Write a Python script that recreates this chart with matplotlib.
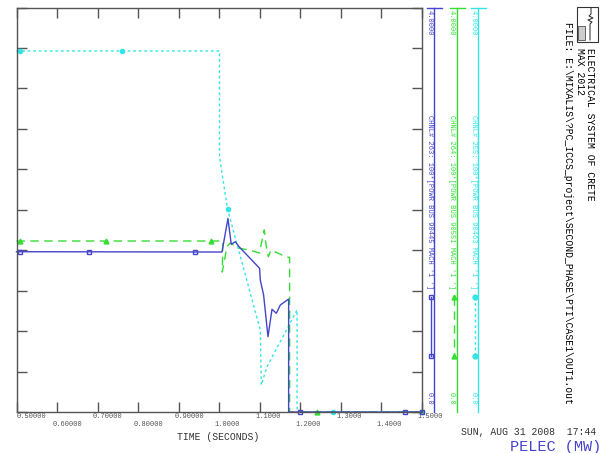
import matplotlib
matplotlib.use("Agg")
import matplotlib.pyplot as plt
import matplotlib.transforms as mtrans
from matplotlib.lines import Line2D
from matplotlib.patches import Rectangle
import numpy as np

# channel data (time in s, value in 100 MW units)
blue_t = [0.5, 1.0067, 1.0215, 1.0296, 1.0395, 1.0494, 1.0995, 1.1012, 1.1094,
          1.1202, 1.1301, 1.1407, 1.1506, 1.1711, 1.1711, 1.5]
blue_v = [1.585, 1.582, 1.913, 1.658, 1.684, 1.632, 1.421, 1.305, 1.157,
          0.745, 1.016, 0.976, 1.058, 1.117, 0.0, 0.0]
blue_mark_t = [0.5086, 0.6798, 0.9407, 1.2000, 1.4593, 1.5]

green_t = [0.5, 1.0091, 1.0074, 1.019, 1.0272, 1.0469, 1.0807, 1.0988, 1.1111,
           1.116, 1.121, 1.1277, 1.1672, 1.1735, 1.1735, 1.5]
green_v = [1.691, 1.691, 1.384, 1.635, 1.671, 1.622, 1.595, 1.572, 1.80,
           1.635, 1.536, 1.602, 1.530, 1.530, 0.0, 0.0]
green_mark_t = [0.5086, 0.7210, 0.9802, 1.2412]

cyan_t = [0.5, 1.0007, 1.0007, 1.0205, 1.1012, 1.1037, 1.1178, 1.1919, 1.1919, 1.5]
cyan_v = [3.570, 3.570, 2.522, 2.004, 0.811, 0.267, 0.448, 1.009, 0.0, 0.0]
cyan_mark_t = [0.5086, 0.7598, 1.0205, 1.2807, 1.5]

x_ticks = [0.5, 0.6, 0.7, 0.8, 0.9, 1.0, 1.1, 1.2, 1.3, 1.4, 1.5]
x_labels = ["0.50000", "0.60000", "0.70000", "0.80000", "0.90000", "1.0000",
            "1.1000", "1.2000", "1.3000", "1.4000", "1.5000"]

channels = ["CHNL# 263: 100*[POWR BUS 90445 MACH '1 ']",
            "CHNL# 264: 100*[POWR BUS 90551 MACH '1 ']",
            "CHNL# 255: 100*[POWR BUS 90463 MACH '1 ']"]

BLUE = "#4444cc"
GREEN = "#33dd33"
CYAN = "#33e5e5"
GRAY = "#555555"
MONO = "Liberation Mono"

W, H = 608, 453
fig = plt.figure(figsize=(W / 100, H / 100), dpi=100)
ax = fig.add_axes([16.5 / W, 1 - 412 / H, 405.5 / W, 404.5 / H])


def px(x, y):
    return x / W, 1 - y / H


ax.plot(cyan_t, cyan_v, color=CYAN, lw=1.0, ls=(0, (2, 2)), clip_on=False)
ax.plot(cyan_mark_t, np.interp(cyan_mark_t, cyan_t[:2] + cyan_t[3:], cyan_v[:2] + cyan_v[3:]),
        ls="none", marker="o", ms=3, color=CYAN, clip_on=False)
ax.plot(green_t, green_v, color=GREEN, lw=1.0, ls=(0, (6, 4)), clip_on=False)
ax.plot(green_mark_t, [1.691, 1.691, 1.691, 0], ls="none", marker="^", ms=3.5,
        color=GREEN, clip_on=False)
ax.plot(blue_t, blue_v, color=BLUE, lw=1.0, clip_on=False)
ax.plot(blue_mark_t, [1.585, 1.585, 1.585, 0, 0, 0], ls="none", marker="s", ms=3.5,
        mfc="none", mec=BLUE, mew=1.0, clip_on=False)

ax.set_xlim(0.5, 1.5)
ax.set_ylim(0, 4)

ax.set_xticks(x_ticks)
ax.set_xticklabels([])
ax.set_yticks(np.arange(0, 4.01, 0.4))
ax.set_yticklabels([])
ax.tick_params(which="both", direction="in", length=7, width=1.0, color=GRAY,
               top=True, right=True)
for s in ax.spines.values():
    s.set_color(GRAY)
    s.set_linewidth(1.0)

# PSS/E style staggered tick labels, starting a bit left of the tick
for i, (t, lab) in enumerate(zip(x_ticks, x_labels)):
    dy = -4.5 if i % 2 == 0 else -13
    dx = 0 if i == 0 else -4.5
    off = mtrans.ScaledTranslation(dx / 100, dy / 100, fig.dpi_scale_trans)
    ax.text(t, 0, lab, transform=ax.get_xaxis_transform() + off, ha="left",
            va="center", fontsize=5, family=MONO, color=GRAY, clip_on=False)

# channel scale bars on the right
bar_x = [434, 456.5, 478]
colors = [BLUE, GREEN, CYAN]
styles = ["-", (0, (6, 4)), (0, (2, 2))]
markers = ["s", "^", "o"]
for bx, c, lab, st, mk in zip(bar_x, colors, channels, styles, markers):
    fig.add_artist(Line2D(*zip(px(bx, 7.5), px(bx, 412)), color=c, lw=1.0))
    fig.add_artist(Line2D(*zip(px(bx - 7, 7.5), px(bx + 8, 7.5)), color=c, lw=1.0))
    fig.text(*px(bx - 5, 10), "4.0000", rotation=270, color=c, fontsize=5,
             family=MONO, ha="center", va="top")
    fig.text(*px(bx - 5, 115), lab, rotation=270, color=c, fontsize=5,
             family=MONO, ha="center", va="top")
    fig.text(*px(bx - 5, 392), "0.0", rotation=270, color=c, fontsize=5,
             family=MONO, ha="center", va="top")
    fig.add_artist(Line2D(*zip(px(bx - 3, 297), px(bx - 3, 356)), color=c, lw=1.0,
                          ls=st, marker=mk, ms=3.5,
                          mfc="none" if mk == "s" else c, mec=c))

# title block
fig.text(*px(590, 48), "ELECTRICAL SYSTEM OF CRETE", rotation=270, fontsize=7,
         family=MONO, ha="center", va="top")
fig.text(*px(580, 48), "MAX 2012", rotation=270, fontsize=7,
         family=MONO, ha="center", va="top")
fig.text(*px(568, 22), "FILE: E:\\MIXALIS\\?PC_ICCS_project\\SECOND_PHASE\\PTI\\CASE1\\OUT1.out",
         rotation=270, fontsize=7, family=MONO, ha="center", va="top")

# small logo box
fig.add_artist(Rectangle(px(577, 42), 21 / W, 35 / H, fill=False, lw=0.8,
                         ec="#333333"))
fig.add_artist(Rectangle(px(578, 40), 7 / W, 14 / H, fill=True, lw=0.5,
                         ec="#333333", fc="#cccccc"))
wx = [591, 591, 589, 593, 588, 592, 590, 590]
wy = [8, 14, 16, 18, 20, 22, 24, 40]
fig.add_artist(Line2D([a / W for a in wx], [1 - b / H for b in wy], color="#222222", lw=0.7))

fig.text(*px(218, 437), "TIME (SECONDS)", fontsize=7, family=MONO,
         ha="center", va="center", color="#333333")
fig.text(*px(596, 432), "SUN, AUG 31 2008  17:44", fontsize=7, family=MONO,
         ha="right", va="center", color="#333333")
fig.text(*px(601, 447), "PELEC (MW)", fontsize=11, family=MONO,
         ha="right", va="center", color=BLUE)

fig.savefig("out.png", dpi=100)
